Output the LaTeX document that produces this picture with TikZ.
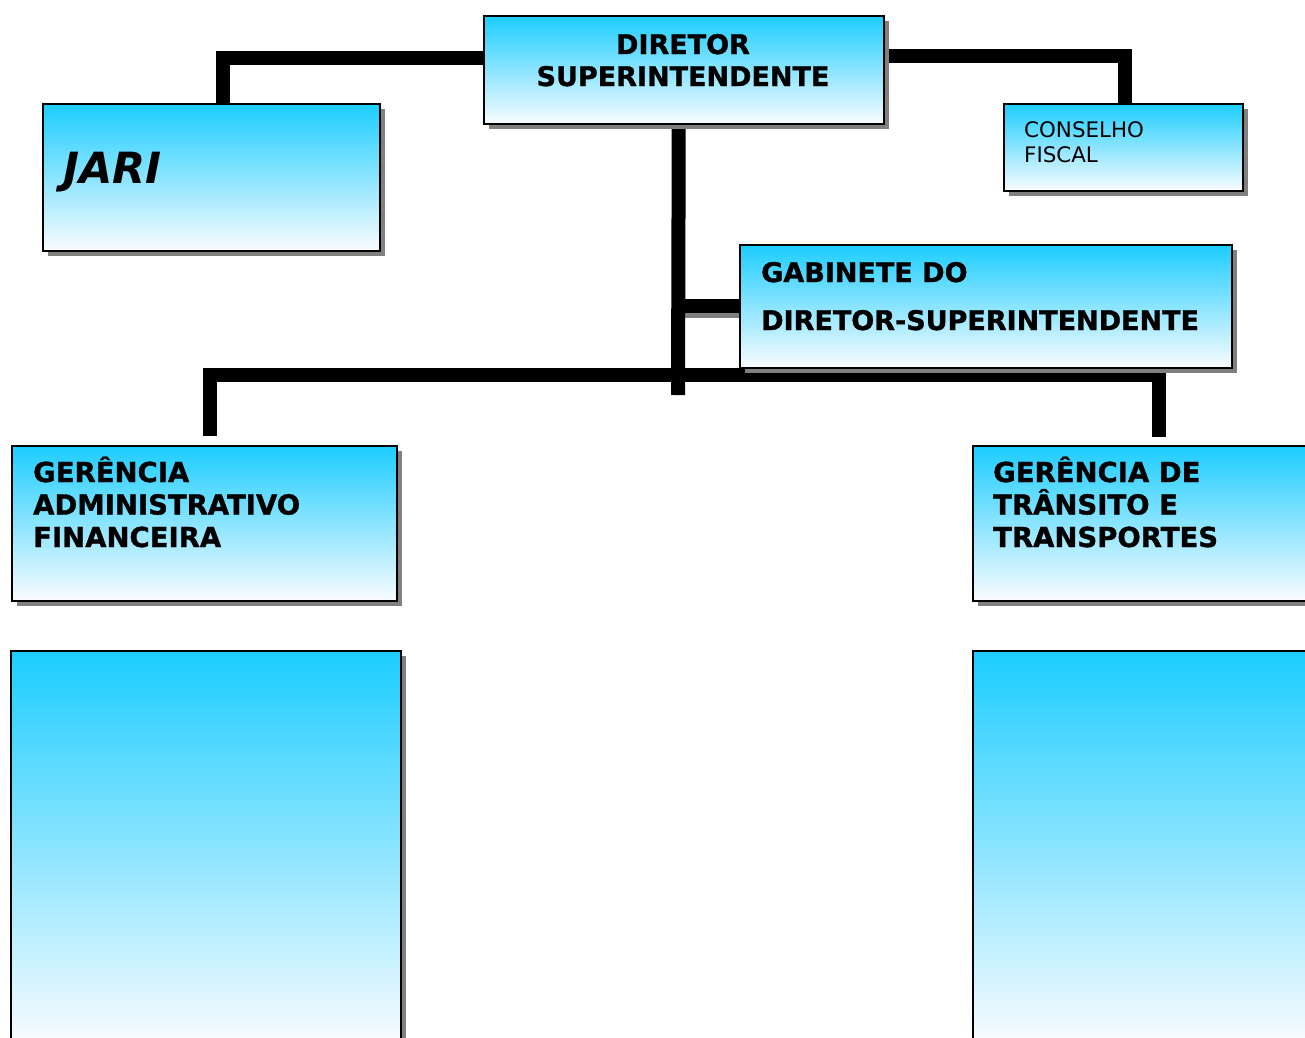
\documentclass[tikz,border=0pt]{standalone}
\usepackage{fontspec}
\setmainfont{DejaVu Sans}[BoldFeatures={FakeBold=1.2}]
\usetikzlibrary{calc,positioning,shadows,backgrounds}
\definecolor{boxtop}{RGB}{28,205,255}
\definecolor{boxbot}{RGB}{250,252,255}
\tikzset{
  orgbox/.style={draw=black,line width=1.5pt,top color=boxtop,bottom color=boxbot,anchor=north west,inner sep=0pt,
    drop shadow={shadow xshift=5pt,shadow yshift=-5pt,fill=gray,opacity=1}},
  orgtxt/.style={inner sep=0pt,anchor=base west,align=left},
  link/.style={line width=14pt,black},
  linkshade/.style={line width=14pt,gray},
}
\begin{document}
\begin{tikzpicture}[x=1pt,y=-1pt]
\useasboundingbox (0,0) rectangle (1305,1037);
\clip (0,0) rectangle (1305,1037);
\node[orgbox,minimum width=400pt,minimum height=108pt] (ds) at (483,15) {};
\node[orgbox,minimum width=337pt,minimum height=147pt] (jari) at (42,103) {};
\node[orgbox,minimum width=239pt,minimum height=87pt] (cf) at (1003,103) {};
\node[orgbox,minimum width=492pt,minimum height=123pt] (gab) at (739,244) {};
\node[orgbox,minimum width=385pt,minimum height=155pt] (gaf) at (11,445) {};
\node[orgbox,minimum width=386pt,minimum height=155pt] (gtt) at (972,445) {};
\node[orgbox,minimum width=390pt,minimum height=395pt] (gafsub) at (10,650) {};
\node[orgbox,minimum width=386pt,minimum height=395pt] (gttsub) at (972,650) {};

% anchors sit on the baseline of the last line
\node[orgtxt,anchor=base,align=center,font={\fontsize{27pt}{32pt}\selectfont\bfseries}] (dstxt) at (683,86) {DIRETOR\\SUPERINTENDENTE};
\node[orgtxt,font={\fontsize{43pt}{45pt}\selectfont\bfseries\itshape}] (jaritxt) at (63,183) {JARI};
\node[orgtxt,font={\fontsize{21.4pt}{25pt}\selectfont}] (cftxt) at (1024,162) {CONSELHO\\FISCAL};
\node[orgtxt,font={\fontsize{27pt}{48pt}\selectfont\bfseries}] (gabtxt) at (761,330) {GABINETE DO\\DIRETOR-SUPERINTENDENTE};
\node[orgtxt,font={\fontsize{27.5pt}{32.5pt}\selectfont\bfseries}] (gaftxt) at (33,547) {GERÊNCIA\\ADMINISTRATIVO\\FINANCEIRA};
\node[orgtxt,font={\fontsize{27.5pt}{32.5pt}\selectfont\bfseries}] (gtttxt) at (993,547) {GERÊNCIA DE\\TRÂNSITO E\\TRANSPORTES};

\begin{pgfonlayer}{background}
\coordinate (hub) at (678,395);
\coordinate (bar) at (678,375);
\draw[link] ([yshift=12pt]ds.west) -| ([xshift=11.5pt]jari.north);
\draw[link] ([yshift=14pt]ds.east) -| ([xshift=1.5pt]cf.north);
\draw[linkshade] ([yshift=-5pt]gab.west) -- ([yshift=-5pt]gab.west -| hub);
\draw[link] (gab.west) -- (gab.west -| hub);
\draw[link] ([xshift=-5pt]ds.south) -- (hub);
\draw[link] ([xshift=5.5pt,yshift=9pt]gaf.north) |- (bar) -| ([xshift=-7pt,yshift=8pt]gtt.north);
\end{pgfonlayer}
\end{tikzpicture}
\end{document}
